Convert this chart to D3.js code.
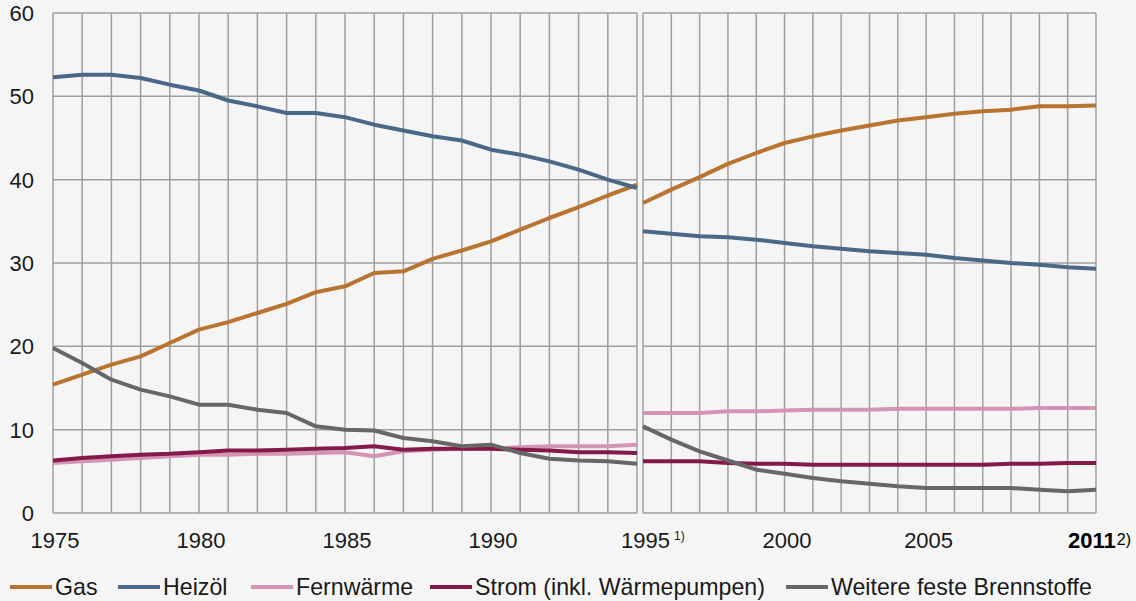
<!DOCTYPE html>
<html>
<head>
<meta charset="utf-8">
<script src="https://cdn.jsdelivr.net/npm/d3@7"></script>
<style>
  html, body { margin: 0; padding: 0; background: #f5f5f5; }
  svg { display: block; font-family: "Liberation Sans", Arial, sans-serif; }
</style>
</head>
<body>
<div id="chart"></div>
<script>
var width = 1136,
    height = 601;

// years of the two panels
var yearsA = [1975, 1976, 1977, 1978, 1979, 1980, 1981, 1982, 1983, 1984, 1985,
              1986, 1987, 1988, 1989, 1990, 1991, 1992, 1993, 1994, 1995];
var yearsB = [1995, 1996, 1997, 1998, 1999, 2000, 2001, 2002, 2003,
              2004, 2005, 2006, 2007, 2008, 2009, 2010, 2011];

var seriesNames = ["Gas", "Heizöl", "Fernwärme", "Strom (inkl. Wärmepumpen)", "Weitere feste Brennstoffe"];
var seriesColors = ["#b87430", "#4a6888", "#d394b6", "#841a4c", "#676767"];

// 1975-1995
var gasA     = [15.4, 16.6, 17.8, 18.8, 20.4, 22.0, 22.9, 24.0, 25.1, 26.5, 27.2,
                28.8, 29.0, 30.5, 31.5, 32.6, 34.0, 35.4, 36.7, 38.1, 39.4];
var heizoelA = [52.3, 52.6, 52.6, 52.2, 51.4, 50.7, 49.5, 48.8, 48.0, 48.0, 47.5,
                46.6, 45.9, 45.2, 44.7, 43.6, 43.0, 42.2, 41.2, 40.0, 39.0];
var fernA    = [6.0, 6.2, 6.4, 6.6, 6.8, 7.0, 7.0, 7.1, 7.1, 7.2, 7.3,
                6.8, 7.4, 7.6, 7.7, 7.7, 7.9, 8.0, 8.0, 8.0, 8.2];
var stromA   = [6.3, 6.6, 6.8, 7.0, 7.1, 7.3, 7.5, 7.5, 7.6, 7.7, 7.8,
                8.0, 7.6, 7.7, 7.7, 7.7, 7.6, 7.5, 7.3, 7.3, 7.2];
var weitereA = [19.8, 18.0, 16.0, 14.8, 14.0, 13.0, 13.0, 12.4, 12.0, 10.4, 10.0,
                9.9, 9.0, 8.6, 8.0, 8.2, 7.2, 6.5, 6.3, 6.2, 5.9];

// 1995-2011
var gasB     = [37.2, 38.8, 40.3, 41.9, 43.2, 44.4, 45.2, 45.9, 46.5,
                47.1, 47.5, 47.9, 48.2, 48.4, 48.8, 48.8, 48.9];
var heizoelB = [33.8, 33.5, 33.2, 33.1, 32.8, 32.4, 32.0, 31.7, 31.4,
                31.2, 31.0, 30.6, 30.3, 30.0, 29.8, 29.5, 29.3];
var fernB    = [12.0, 12.0, 12.0, 12.2, 12.2, 12.3, 12.4, 12.4, 12.4,
                12.5, 12.5, 12.5, 12.5, 12.5, 12.6, 12.6, 12.6];
var stromB   = [6.2, 6.2, 6.2, 6.0, 5.9, 5.9, 5.8, 5.8, 5.8,
                5.8, 5.8, 5.8, 5.8, 5.9, 5.9, 6.0, 6.0];
var weitereB = [10.4, 8.8, 7.4, 6.3, 5.2, 4.7, 4.2, 3.8, 3.5,
                3.2, 3.0, 3.0, 3.0, 3.0, 2.8, 2.6, 2.8];

var yTicks = [0, 10, 20, 30, 40, 50, 60];
var xLabelsA = [1975, 1980, 1985, 1990];
var xLabelsB = [
  {year: 1995, note: "1)", bold: false},
  {year: 2000, note: "", bold: false},
  {year: 2005, note: "", bold: false},
  {year: 2011, note: "2)", bold: true}
];

var svg = d3.select("#chart")
    .append("svg")
    .attr("width", width)
    .attr("height", height);

svg.append("rect").attr("width", width).attr("height", height).attr("fill", "#f5f5f5");

var y = d3.scaleLinear().domain([0, 60]).range([513, 13]);

var panels = [
  {years: yearsA, x: d3.scaleLinear().domain([1975, 1995]).range([53, 637]),
   series: [gasA, heizoelA, fernA, stromA, weitereA]},
  {years: yearsB, x: d3.scaleLinear().domain([1995, 2011]).range([643, 1096]),
   series: [gasB, heizoelB, fernB, stromB, weitereB]}
];

panels.forEach(function(p) {
    var g = svg.append("g");

    g.selectAll(".vgrid")
        .data(p.years)
        .enter().append("line")
        .attr("x1", function(d) { return p.x(d); })
        .attr("x2", function(d) { return p.x(d); })
        .attr("y1", y(60))
        .attr("y2", y(0))
        .attr("stroke", "#9f9f9f")
        .attr("stroke-width", 1.5);

    g.selectAll(".hgrid")
        .data(yTicks)
        .enter().append("line")
        .attr("x1", p.x.range()[0])
        .attr("x2", p.x.range()[1])
        .attr("y1", function(d) { return y(d); })
        .attr("y2", function(d) { return y(d); })
        .attr("stroke", "#9f9f9f")
        .attr("stroke-width", 1.5);

    var line = d3.line()
        .x(function(d, i) { return p.x(p.years[i]); })
        .y(function(d) { return y(d); });

    g.selectAll(".series")
        .data(p.series)
        .enter().append("path")
        .attr("d", line)
        .attr("fill", "none")
        .attr("stroke", function(d, i) { return seriesColors[i]; })
        .attr("stroke-width", 4)
        .attr("stroke-linejoin", "round");
});

// y axis labels
svg.selectAll(".ylab")
    .data(yTicks)
    .enter().append("text")
    .attr("x", 34)
    .attr("y", function(d) { return y(d) + 8; })
    .attr("text-anchor", "end")
    .attr("font-size", 22)
    .attr("fill", "#1a1a1a")
    .text(function(d) { return d; });

// x axis labels
svg.selectAll(".xlabA")
    .data(xLabelsA)
    .enter().append("text")
    .attr("x", function(d) { return panels[0].x(d) + 2; })
    .attr("y", 548)
    .attr("text-anchor", "middle")
    .attr("font-size", 22)
    .attr("fill", "#1a1a1a")
    .text(function(d) { return d; });

var xb = svg.selectAll(".xlabB")
    .data(xLabelsB)
    .enter().append("text")
    .attr("x", function(d) { return panels[1].x(d.year) + (d.bold ? -28 : -22); })
    .attr("y", 548)
    .attr("font-size", 22)
    .attr("fill", function(d) { return d.bold ? "#000" : "#1a1a1a"; });

xb.append("tspan")
    .attr("font-weight", function(d) { return d.bold ? "bold" : "normal"; })
    .text(function(d) { return d.year; });

xb.append("tspan")
    .attr("dx", function(d) { return d.bold ? 1 : 4; })
    .attr("dy", function(d) { return d.bold ? -3 : -8; })
    .attr("font-size", function(d) { return d.bold ? 16 : 12; })
    .text(function(d) { return d.note; });

// legend
var legendX = [10, 118, 251, 430, 786];
var legend = svg.selectAll(".legend")
    .data(seriesNames)
    .enter().append("g")
    .attr("transform", function(d, i) { return "translate(" + legendX[i] + ",587)"; });

legend.append("line")
    .attr("x1", 0)
    .attr("x2", 42)
    .attr("stroke", function(d, i) { return seriesColors[i]; })
    .attr("stroke-width", 4);

legend.append("text")
    .attr("x", 45)
    .attr("y", 8)
    .attr("font-size", 23.2)
    .attr("fill", "#1a1a1a")
    .text(function(d) { return d; });
</script>
</body>
</html>
